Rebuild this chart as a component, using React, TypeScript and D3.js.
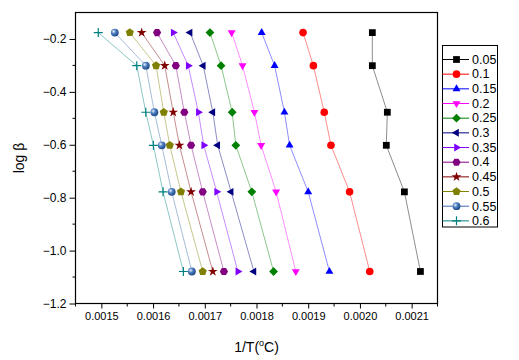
import React, { useEffect, useRef } from 'react';
import * as d3 from 'd3';

const logBeta = [-0.176, -0.301, -0.477, -0.602, -0.778, -1.079];

const seriesNames = ['0.05', '0.1', '0.15', '0.2', '0.25', '0.3', '0.35', '0.4', '0.45', '0.5', '0.55', '0.6'];

const invT05 = [0.002024, 0.002024, 0.002053, 0.002051, 0.002086, 0.002117];
const invT10 = [0.00189, 0.00191, 0.001931, 0.001944, 0.00198, 0.002019];
const invT15 = [0.00181, 0.001835, 0.001854, 0.001864, 0.0019, 0.001941];
const invT20 = [0.001752, 0.001773, 0.001796, 0.001809, 0.001838, 0.001876];
const invT25 = [0.00171, 0.0017315, 0.001753, 0.00176, 0.001791, 0.001833];
const invT30 = [0.0016716, 0.001697, 0.0017155, 0.001725, 0.001751, 0.001795];
const invT35 = [0.001639, 0.001668, 0.0016876, 0.001698, 0.001723, 0.001764];
const invT40 = [0.0016077, 0.001644, 0.0016605, 0.0016735, 0.001696, 0.001737];
const invT45 = [0.001578, 0.0016226, 0.001639, 0.001651, 0.0016735, 0.0017155];
const invT50 = [0.001555, 0.0016058, 0.0016207, 0.0016323, 0.001654, 0.001696];
const invT55 = [0.001526, 0.001586, 0.0016025, 0.0016168, 0.001636, 0.001675];
const invT60 = [0.001494, 0.0015685, 0.0015859, 0.0016006, 0.0016193, 0.0016586];

const seriesX = [invT05, invT10, invT15, invT20, invT25, invT30, invT35, invT40, invT45, invT50, invT55, invT60];

const colors = ['#000000', '#ff0000', '#0000ff', '#ff00ff', '#008000', '#000080', '#8000ff', '#800080', '#800000', '#808000', '#3a6aaa', '#008080'];
const shapes = ['square', 'circle', 'up', 'down', 'diamond', 'left', 'right', 'hexagon', 'star', 'pentagon', 'sphere', 'plus'];

const xTicks = [0.0015, 0.0016, 0.0017, 0.0018, 0.0019, 0.002, 0.0021];
const yTicks = [-0.2, -0.4, -0.6, -0.8, -1.0, -1.2];

const FONT = "'Liberation Sans', Arial, sans-serif";

const polygon = (n: number, r: number, rot: number) => {
  const pts = d3.range(n).map(i => {
    const a = rot + (i * 2 * Math.PI) / n;
    return [r * Math.cos(a), r * Math.sin(a)];
  });
  return 'M' + pts.map(p => p[0].toFixed(2) + ',' + p[1].toFixed(2)).join('L') + 'Z';
};

const App: React.FC = () => {
  const svgRef = useRef<SVGSVGElement>(null);

  useEffect(() => {
    if (!svgRef.current) return;
    const svg = d3.select(svgRef.current);
    svg.selectAll('*').remove();

    const left = 75.5, right = 437.5, top = 12.5, bottom = 303.5;

    const x = d3.scaleLinear().domain([0.00145, 0.00215]).range([left, right]);
    const y = d3.scaleLinear().domain([-1.2, -0.1]).range([bottom, top]);

    const defs = svg.append('defs');
    const grad = defs.append('radialGradient').attr('id', 'sphere')
      .attr('cx', '35%').attr('cy', '35%').attr('r', '65%');
    grad.append('stop').attr('offset', '0%').attr('stop-color', '#e8f0ff');
    grad.append('stop').attr('offset', '45%').attr('stop-color', '#4f7fc0');
    grad.append('stop').attr('offset', '100%').attr('stop-color', '#1f4a88');

    const drawMarker = (g: d3.Selection<SVGGElement, unknown, null, undefined>, shape: string, color: string) => {
      if (shape === 'square') {
        g.append('path').attr('d', d3.symbol(d3.symbolSquare, 46)()!).attr('fill', color);
      } else if (shape === 'circle') {
        g.append('circle').attr('r', 3.8).attr('fill', color);
      } else if (shape === 'up' || shape === 'down' || shape === 'left' || shape === 'right') {
        const rot = { up: 0, down: 180, left: -90, right: 90 }[shape];
        g.append('path').attr('d', polygon(3, 4.6, -Math.PI / 2)).attr('fill', color)
          .attr('transform', `rotate(${rot})`);
      } else if (shape === 'diamond') {
        g.append('path').attr('d', polygon(4, 4.4, 0)).attr('fill', color);
      } else if (shape === 'hexagon') {
        g.append('path').attr('d', polygon(6, 4.1, 0)).attr('fill', color);
      } else if (shape === 'star') {
        g.append('path').attr('d', d3.symbol(d3.symbolStar, 30)()!).attr('fill', color);
      } else if (shape === 'pentagon') {
        g.append('path').attr('d', polygon(5, 4.3, -Math.PI / 2)).attr('fill', color);
      } else if (shape === 'sphere') {
        g.append('circle').attr('r', 3.9).attr('fill', 'url(#sphere)');
      } else if (shape === 'plus') {
        g.append('path').attr('d', 'M-4.5,0H4.5M0,-4.5V4.5').attr('stroke', color).attr('stroke-width', 1.2);
      }
    };

    // series lines
    seriesX.forEach((xs, si) => {
      const pts = xs.map((v, i) => [v, logBeta[i]] as [number, number]);
      svg.append('path')
        .datum(pts)
        .attr('d', d3.line<[number, number]>().x(d => x(d[0])).y(d => y(d[1])))
        .attr('fill', 'none')
        .attr('stroke', colors[si])
        .attr('stroke-opacity', 0.45)
        .attr('stroke-width', 1);
    });

    // markers
    seriesX.forEach((xs, si) => {
      xs.forEach((v, i) => {
        const g = svg.append('g').attr('transform', `translate(${x(v)},${y(logBeta[i])})`);
        drawMarker(g, shapes[si], colors[si]);
      });
    });

    // frame
    svg.append('rect')
      .attr('x', left).attr('y', top)
      .attr('width', right - left).attr('height', bottom - top)
      .attr('fill', 'none').attr('stroke', '#000').attr('stroke-width', 1.2);

    // x axis
    const xAxis = svg.append('g').attr('transform', `translate(0,${bottom})`);
    xAxis.call(d3.axisBottom(x).tickValues(xTicks).tickSize(5).tickPadding(4)
      .tickFormat(d => (d as number).toFixed(4)));
    xAxis.select('.domain').remove();
    xAxis.selectAll('text').attr('font-family', FONT).attr('font-size', 11).attr('fill', '#000');
    xAxis.selectAll('line').attr('stroke', '#000');
    xAxis.append('g').selectAll('line')
      .data(xTicks.map(t => t - 0.00005).concat([0.00215]))
      .join('line')
      .attr('x1', d => x(d)).attr('x2', d => x(d))
      .attr('y1', 0).attr('y2', 3).attr('stroke', '#000');

    // y axis
    const yAxis = svg.append('g').attr('transform', `translate(${left},0)`);
    yAxis.call(d3.axisLeft(y).tickValues(yTicks).tickSize(6).tickPadding(3)
      .tickFormat(d3.format('.1f')));
    yAxis.select('.domain').remove();
    yAxis.selectAll('text').attr('font-family', FONT).attr('font-size', 12).attr('fill', '#000');
    yAxis.selectAll('line').attr('stroke', '#000');
    yAxis.append('g').selectAll('line')
      .data(yTicks.slice(0, -1).map(t => t - 0.1))
      .join('line')
      .attr('x1', 0).attr('x2', -3)
      .attr('y1', d => y(d)).attr('y2', d => y(d)).attr('stroke', '#000');

    // axis titles
    const xt = svg.append('text')
      .attr('x', (left + right) / 2).attr('y', 352)
      .attr('text-anchor', 'middle')
      .attr('font-family', FONT).attr('font-size', 14).attr('fill', '#000');
    xt.append('tspan').text('1/T(');
    xt.append('tspan').attr('font-size', 9).attr('dy', -6).text('o');
    xt.append('tspan').attr('dy', 6).text('C)');

    svg.append('text')
      .attr('transform', `translate(24,${(top + bottom) / 2}) rotate(-90)`)
      .attr('text-anchor', 'middle')
      .attr('font-family', FONT).attr('font-size', 14).attr('fill', '#000')
      .text('log β');

    // legend
    const lgX = 442.5, lgY = 45.5, lgW = 55, lgH = 181.5, rowH = 14.67;
    const legend = svg.append('g');
    legend.append('rect')
      .attr('x', lgX).attr('y', lgY).attr('width', lgW).attr('height', lgH)
      .attr('fill', '#fff').attr('stroke', '#000').attr('stroke-width', 1);
    seriesNames.forEach((name, i) => {
      const cy = 59.5 + i * rowH;
      legend.append('line')
        .attr('x1', lgX).attr('x2', 469).attr('y1', cy).attr('y2', cy)
        .attr('stroke', colors[i]).attr('stroke-width', 1);
      const g = legend.append('g').attr('transform', `translate(456.5,${cy})`);
      drawMarker(g, shapes[i], colors[i]);
      legend.append('text')
        .attr('x', 472).attr('y', cy + 4.3)
        .attr('font-family', FONT).attr('font-size', 12.5).attr('fill', '#000')
        .text(name);
    });
  }, []);

  return (
    <div style={{ position: 'absolute', left: 0, top: 0, background: '#fff' }}>
      <svg ref={svgRef} width={519} height={360} style={{ display: 'block' }}></svg>
    </div>
  );
};

export default App;
